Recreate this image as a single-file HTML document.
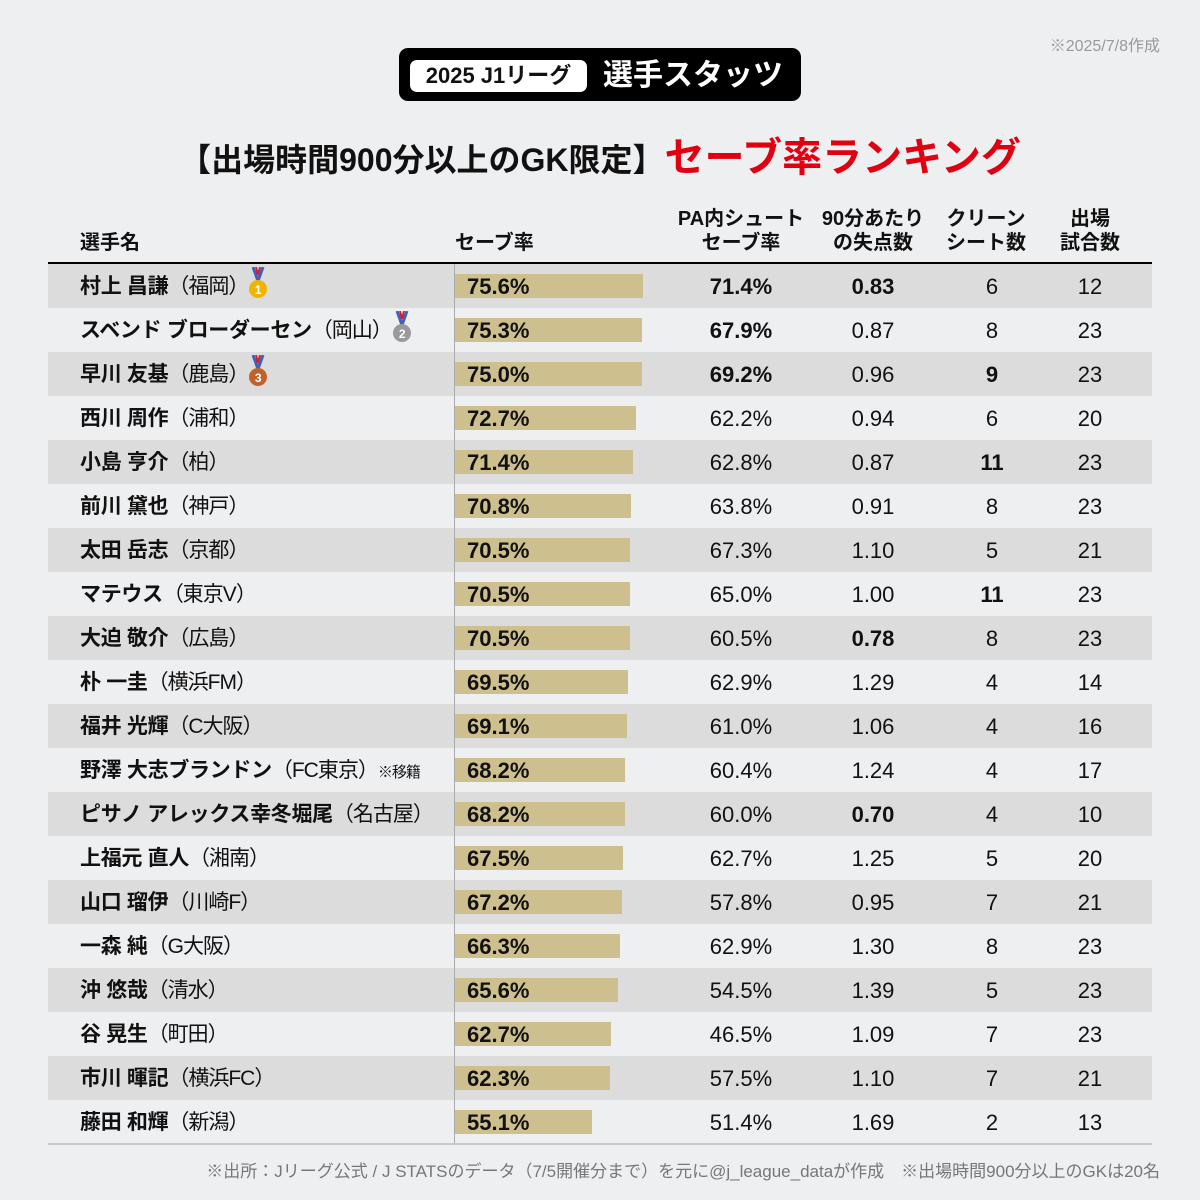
<!DOCTYPE html>
<html><head><meta charset="utf-8"><style>
*{margin:0;padding:0;box-sizing:border-box}
body{width:1200px;height:1200px;background:#eeeff1;font-family:"Liberation Sans","Noto Sans CJK JP",sans-serif;position:relative;overflow:hidden;color:#111}
.abs{position:absolute}
.date{right:40px;top:32px;font-size:16px;color:#999}
.tbox{left:399px;top:48px;width:402px;height:53px;background:#000;border-radius:9px}
.tin{left:410px;top:60px;width:177px;height:32px;background:#fff;border-radius:7px;font-size:22px;font-weight:bold;text-align:center;line-height:32px}
.tr{left:603px;top:49px;height:53px;line-height:53px;color:#fff;font-size:30px;font-weight:bold}
.title{left:0;width:1200px;top:133px;text-align:center;font-size:32px;font-weight:bold;line-height:50px}
.title span{color:#e00010;font-size:40px}
.h{font-size:20px;font-weight:bold;text-align:center;line-height:24px}
.row{position:absolute;left:48px;width:1104px;height:44px;font-size:22px;line-height:46px}
.g{background:#dcdcdd}
.nm{position:absolute;left:32px;font-weight:bold;white-space:nowrap;font-size:21px;letter-spacing:-0.3px}
.nm i{font-style:normal;font-weight:normal;letter-spacing:-1px}
.bar{position:absolute;left:407px;top:10px;height:24px;background:#cdc08e}
.bv{position:absolute;left:419px;font-weight:bold}
.c{position:absolute;width:120px;text-align:center}
b{font-weight:bold}
</style></head><body>
<div class="abs date">※2025/7/8作成</div>
<div class="abs tbox"></div>
<div class="abs tin">2025 J1リーグ</div>
<div class="abs tr">選手スタッツ</div>
<div class="abs title">【出場時間900分以上のGK限定】<span>セーブ率ランキング</span></div>
<div class="abs h" style="left:80px;top:231px;text-align:left">選手名</div>
<div class="abs h" style="left:455px;top:231px;text-align:left">セーブ率</div>
<div class="abs h" style="left:669px;top:207px;width:144px">PA内シュート<br>セーブ率</div>
<div class="abs h" style="left:806px;top:207px;width:134px">90分あたり<br>の失点数</div>
<div class="abs h" style="left:926px;top:207px;width:120px">クリーン<br>シート数</div>
<div class="abs h" style="left:1030px;top:207px;width:120px">出場<br>試合数</div>
<div class="abs" style="left:48px;top:262px;width:1104px;height:2px;background:#000"></div>
<div id="rows"></div>
<div class="abs" style="left:454px;top:264px;width:1px;height:880px;background:#aaa"></div>
<div class="abs" style="left:48px;top:1143px;width:1104px;height:2px;background:#c8c8c8"></div>
<div class="abs" style="right:40px;top:1157px;font-size:17px;color:#777">※出所：Jリーグ公式 / J STATSのデータ（7/5開催分まで）を元に@j_league_dataが作成　※出場時間900分以上のGKは20名</div>
<script>
var d=[
["村上 昌謙","（福岡）",75.6,"<b>71.4%</b>","<b>0.83</b>","6","12",1],
["スベンド ブローダーセン","（岡山）",75.3,"<b>67.9%</b>","0.87","8","23",2],
["早川 友基","（鹿島）",75.0,"<b>69.2%</b>","0.96","<b>9</b>","23",3],
["西川 周作","（浦和）",72.7,"62.2%","0.94","6","20"],
["小島 亨介","（柏）",71.4,"62.8%","0.87","<b>11</b>","23"],
["前川 黛也","（神戸）",70.8,"63.8%","0.91","8","23"],
["太田 岳志","（京都）",70.5,"67.3%","1.10","5","21"],
["マテウス","（東京V）",70.5,"65.0%","1.00","<b>11</b>","23"],
["大迫 敬介","（広島）",70.5,"60.5%","<b>0.78</b>","8","23"],
["朴 一圭","（横浜FM）",69.5,"62.9%","1.29","4","14"],
["福井 光輝","（C大阪）",69.1,"61.0%","1.06","4","16"],
["野澤 大志ブランドン","（FC東京）<span style='font-size:15px'>※移籍</span>",68.2,"60.4%","1.24","4","17"],
["ピサノ アレックス幸冬堀尾","（名古屋）",68.2,"60.0%","<b>0.70</b>","4","10"],
["上福元 直人","（湘南）",67.5,"62.7%","1.25","5","20"],
["山口 瑠伊","（川崎F）",67.2,"57.8%","0.95","7","21"],
["一森 純","（G大阪）",66.3,"62.9%","1.30","8","23"],
["沖 悠哉","（清水）",65.6,"54.5%","1.39","5","23"],
["谷 晃生","（町田）",62.7,"46.5%","1.09","7","23"],
["市川 暉記","（横浜FC）",62.3,"57.5%","1.10","7","21"],
["藤田 和輝","（新潟）",55.1,"51.4%","1.69","2","13"]];
var col=["#f0b400","#9a9a9a","#c0622a"];
var h="";
d.forEach(function(r,i){
var m="";
if(r[7]){m="<svg width='20' height='34' style='vertical-align:middle;margin-left:0px;margin-top:-6px' viewBox='0 0 20 34'><path d='M5 0 L10 14 L15 0' stroke='#4060c0' stroke-width='3' fill='none'/><path d='M8 0 L10 8 L12 0' stroke='#d02030' stroke-width='2' fill='none'/><circle cx='10' cy='22' r='9' fill='"+col[r[7]-1]+"'/><text x='10' y='27' font-size='12' font-weight='bold' fill='#fff' text-anchor='middle' font-family='Liberation Sans'>"+r[7]+"</text></svg>";}
h+="<div class='row"+(i%2==0?" g":"")+"' style='top:"+(264+i*44)+"px'><div class='nm'>"+r[0]+"<i>"+r[1]+"</i>"+m+"</div><div class='bar' style='width:"+(r[2]*2.487).toFixed(0)+"px'></div><div class='bv'>"+r[2].toFixed(1)+"%</div><div class='c' style='left:633px'>"+r[3]+"</div><div class='c' style='left:765px'>"+r[4]+"</div><div class='c' style='left:884px'>"+r[5]+"</div><div class='c' style='left:982px'>"+r[6]+"</div></div>";
});
document.getElementById("rows").innerHTML=h;
</script>
</body></html>
